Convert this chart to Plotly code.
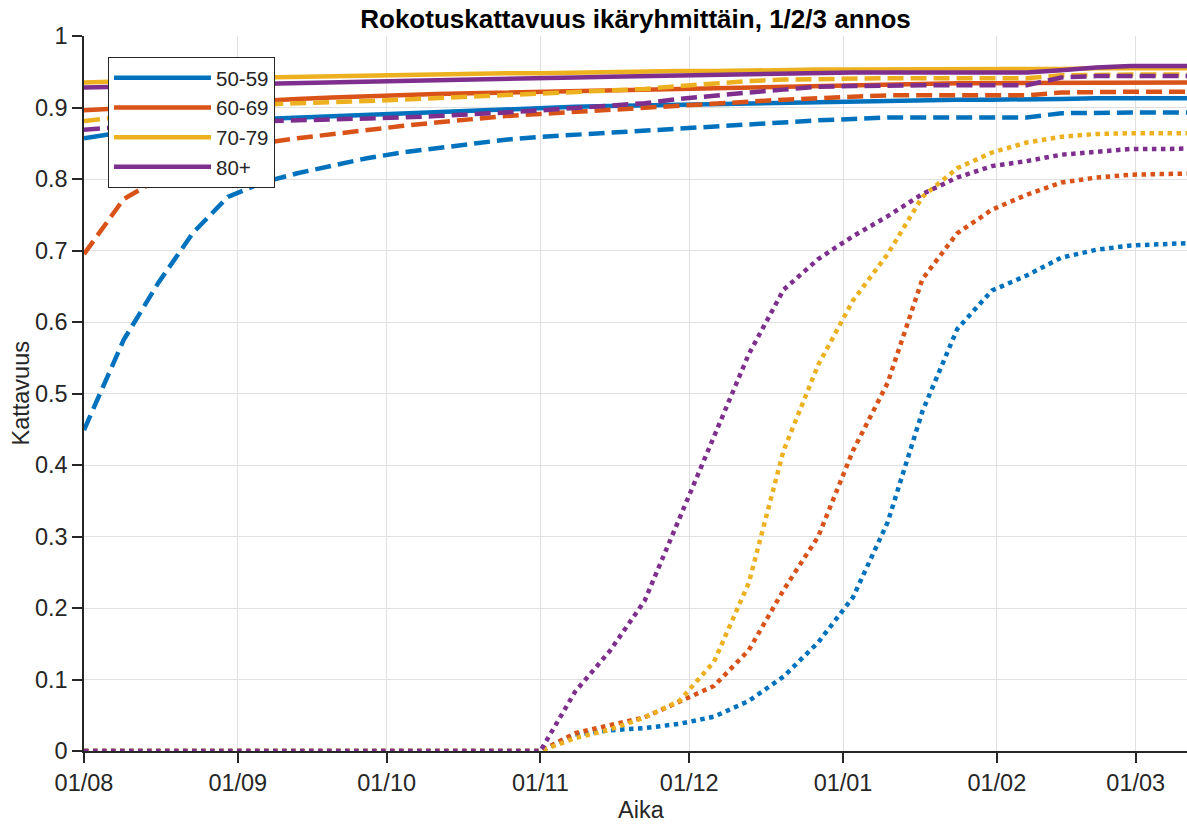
import plotly.graph_objects as go

# ---- data ----
dates = ["2021-08-01", "2021-08-09", "2021-08-16", "2021-08-23", "2021-08-30",
         "2021-09-06", "2021-09-13", "2021-09-20", "2021-09-27", "2021-10-04",
         "2021-10-11", "2021-10-18", "2021-10-25", "2021-11-01", "2021-11-08",
         "2021-11-15", "2021-11-22", "2021-11-29", "2021-12-06", "2021-12-13",
         "2021-12-20", "2021-12-27", "2022-01-03", "2022-01-10", "2022-01-17",
         "2022-01-24", "2022-01-31", "2022-02-07", "2022-02-14", "2022-02-21",
         "2022-02-28", "2022-03-07", "2022-03-14"]

groups = ["50-59", "60-69", "70-79", "80+"]
colors = ["#0072BD", "#D95319", "#EDB120", "#7E2F8E"]

# dose 1 (solid)
d1_5059 = [.857, .866, .873, .878, .882, .884, .886, .888, .890, .892, .894, .896, .898, .900, .901, .902, .903,
           .904, .905, .906, .907, .908, .909, .910, .911, .911, .911, .911, .912, .913, .913, .913, .913]
d1_6069 = [.896, .899, .902, .905, .908, .910, .912, .914, .916, .918, .919, .920, .921, .922, .923, .924, .925,
           .926, .928, .929, .930, .931, .932, .933, .934, .934, .934, .934, .935, .935, .935, .935, .935]
d1_7079 = [.935, .937, .939, .940, .941, .942, .943, .944, .945, .946, .947, .947, .948, .948, .949, .949, .950,
           .951, .951, .952, .952, .953, .953, .953, .953, .953, .953, .953, .954, .955, .955, .955, .955]
d1_80 = [.928, .929, .930, .931, .932, .933, .934, .935, .936, .937, .938, .939, .940, .941, .942, .943, .944,
         .945, .946, .947, .948, .948, .949, .949, .949, .949, .949, .949, .952, .956, .958, .958, .958]

# dose 2 (dashed)
d2_5059 = [.449, .575, .655, .725, .775, .795, .808, .818, .829, .837, .843, .849, .855, .859, .862, .865, .867,
           .870, .873, .877, .880, .882, .884, .886, .886, .886, .886, .886, .892, .893, .893, .893, .893]
d2_6069 = [.695, .772, .800, .818, .838, .850, .857, .863, .869, .874, .879, .884, .888, .891, .894, .897, .899,
           .902, .905, .908, .911, .913, .915, .917, .917, .917, .917, .917, .921, .922, .922, .922, .922]
d2_7079 = [.881, .888, .893, .897, .901, .904, .906, .907, .909, .911, .913, .915, .917, .919, .921, .923, .926,
           .930, .934, .937, .939, .940, .941, .941, .941, .941, .941, .941, .945, .946, .946, .946, .946]
d2_80 = [.869, .873, .876, .878, .880, .881, .882, .883, .884, .886, .888, .890, .893, .896, .899, .902, .906,
         .912, .917, .921, .925, .929, .930, .931, .931, .931, .931, .931, .942, .944, .944, .944, .944]

# dose 3 (dotted)
d3_5059 = [0] * 14 + [.023, .029, .032, .038, .048, .070, .104, .152, .215, .320, .475, .590, .644, .665,
                      .690, .701, .707, .709, .711]
d3_6069 = [0] * 14 + [.025, .036, .047, .069, .091, .141, .225, .300, .420, .515, .660, .724, .757, .778,
                      .795, .802, .806, .807, .808]
d3_7079 = [0] * 14 + [.018, .030, .047, .070, .125, .235, .420, .540, .630, .695, .775, .815, .837, .851,
                      .859, .863, .864, .864, .864]
d3_80 = [0] * 14 + [.083, .140, .210, .325, .440, .555, .645, .688, .720, .748, .779, .802, .818, .825,
                    .834, .838, .842, .842, .843]

x_tickvals = ["2021-08-01", "2021-09-01", "2021-10-01", "2021-11-01", "2021-12-01",
              "2022-01-01", "2022-02-01", "2022-03-01"]
x_ticktext = ["01/08", "01/09", "01/10", "01/11", "01/12", "01/01", "01/02", "01/03"]
y_tickvals = [0, 0.1, 0.2, 0.3, 0.4, 0.5, 0.6, 0.7, 0.8, 0.9, 1]
y_ticktext = ["0", "0.1", "0.2", "0.3", "0.4", "0.5", "0.6", "0.7", "0.8", "0.9", "1"]

dose1 = [d1_5059, d1_6069, d1_7079, d1_80]
dose2 = [d2_5059, d2_6069, d2_7079, d2_80]
dose3 = [d3_5059, d3_6069, d3_7079, d3_80]

FONT = "Liberation Sans, Arial, Helvetica, sans-serif"
TXT = "#262626"
LW = 4.5

fig = go.Figure()
for name, col, ys in zip(groups, colors, dose1):
    fig.add_trace(go.Scatter(x=dates, y=ys, mode="lines", name=name,
                             line=dict(color=col, width=LW)))
for name, col, ys in zip(groups, colors, dose2):
    fig.add_trace(go.Scatter(x=dates, y=ys, mode="lines", name=name + " (2)", showlegend=False,
                             line=dict(color=col, width=LW, dash="16px,7px")))
for name, col, ys in zip(groups, colors, dose3):
    fig.add_trace(go.Scatter(x=dates, y=ys, mode="lines", name=name + " (3)", showlegend=False,
                             line=dict(color=col, width=LW, dash="4.5px,4.5px")))

# plot area at page (84,36)-(1187,751)
fig.update_layout(
    width=1187, height=824,
    margin=dict(l=84, r=0, t=36, b=73),
    paper_bgcolor="white", plot_bgcolor="white",
    font=dict(family=FONT, color=TXT, size=22),
    title=dict(text="<b>Rokotuskattavuus ikäryhmittäin, 1/2/3 annos</b>",
               x=0.5, xref="paper", xanchor="center",
               y=1 - 19 / 824, yref="container", yanchor="middle",
               font=dict(family=FONT, size=26, color="#000000")),
    showlegend=True,
    legend=dict(x=(108 - 84) / 1103, y=(751 - 57) / 715, xanchor="left", yanchor="top",
                bgcolor="white", bordercolor=TXT, borderwidth=1,
                font=dict(family=FONT, size=20.5, color=TXT),
                itemwidth=97, tracegroupgap=0),
    xaxis=dict(type="date", range=["2021-08-01", "2022-03-11 08:00"],
               tickmode="array", tickvals=x_tickvals, ticktext=x_ticktext,
               ticks="outside", ticklen=10, tickwidth=1.5, tickcolor=TXT,
               showline=True, linecolor=TXT, linewidth=1.5, mirror=False,
               showgrid=True, gridcolor="#e0e0e0", gridwidth=1, zeroline=False,
               tickfont=dict(family=FONT, size=23.5, color=TXT)),
    yaxis=dict(range=[0, 1], tickmode="array", tickvals=y_tickvals, ticktext=y_ticktext,
               ticks="outside", ticklen=10, tickwidth=1.5, tickcolor=TXT,
               showline=True, linecolor=TXT, linewidth=1.5, mirror=False,
               showgrid=True, gridcolor="#e0e0e0", gridwidth=1, zeroline=False,
               tickfont=dict(family=FONT, size=23.5, color=TXT)),
    annotations=[
        dict(text="Aika", xref="paper", yref="paper", x=(641 - 84) / 1103, y=(751 - 810) / 715,
             xanchor="center", yanchor="middle", showarrow=False,
             font=dict(family=FONT, size=23.5, color=TXT)),
        dict(text="Kattavuus", xref="paper", yref="paper", x=(20 - 84) / 1103, y=0.5,
             xanchor="center", yanchor="middle", textangle=-90, showarrow=False,
             font=dict(family=FONT, size=23.5, color=TXT)),
    ],
)

fig.write_html("out.html", config={"displayModeBar": False},
               post_script="document.body.style.margin='0';document.body.style.overflow='hidden';")
